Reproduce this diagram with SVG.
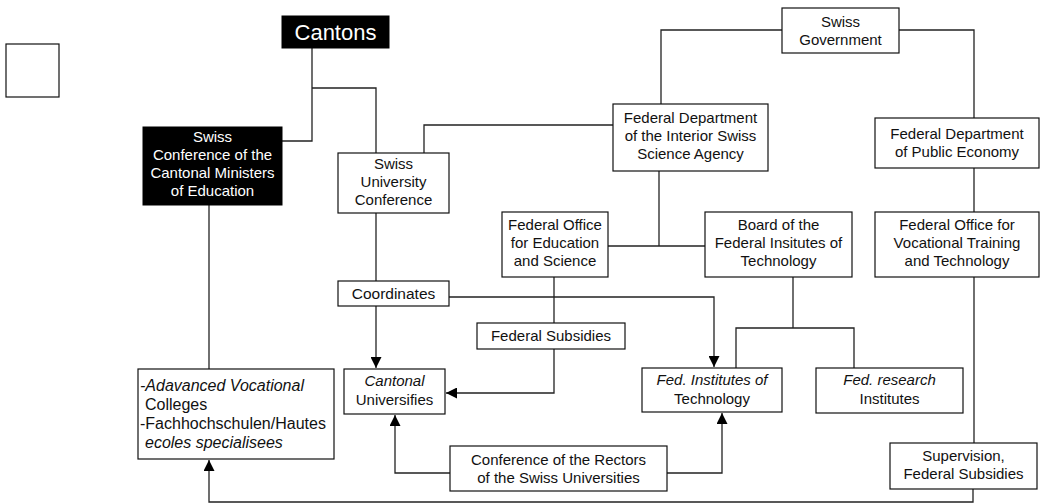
<svg xmlns="http://www.w3.org/2000/svg" width="1040" height="504" viewBox="0 0 1040 504">
<style>
.box{fill:#fff;stroke:#111;stroke-width:1.2}
.dark{fill:#000;stroke:#000;stroke-width:1}
.t{font-family:"Liberation Sans",Arial,sans-serif;font-size:15px;fill:#111;text-anchor:middle}
.w{fill:#fff}
.i{font-style:italic}
.l{text-anchor:start}
.c{fill:none;stroke:#222;stroke-width:1.3}
</style>
<defs>
<marker id="ah" markerUnits="userSpaceOnUse" markerWidth="11" markerHeight="11" refX="11" refY="5.5" orient="auto">
<path d="M0,0 L11,5.5 L0,11 z" fill="#000"/>
</marker>
</defs>
<rect width="1040" height="504" fill="#fff"/>
<g id="connectors">
<path class="c" d="M312,48 V141 H282"/>
<path class="c" d="M312,88 H376 V153"/>
<path class="c" d="M613,125 H424 V153"/>
<path class="c" d="M782,30 H661 V104"/>
<path class="c" d="M899,30 H974 V118"/>
<path class="c" d="M974,168 V212"/>
<path class="c" d="M974,277 V443"/>
<path class="c" d="M973,489 V502 H209 V460" marker-end="url(#ah)"/>
<path class="c" d="M209,205 V369"/>
<path class="c" d="M659,171 V246"/>
<path class="c" d="M608,246 H705"/>
<path class="c" d="M376,213 V281"/>
<path class="c" d="M376,306 V368" marker-end="url(#ah)"/>
<path class="c" d="M449,297 H714 V367" marker-end="url(#ah)"/>
<path class="c" d="M554,277 V323"/>
<path class="c" d="M554,349 V393 H446" marker-end="url(#ah)"/>
<path class="c" d="M793,277 V328"/>
<path class="c" d="M736,368 V328 H854 V368"/>
<path class="c" d="M450,473 H395 V415" marker-end="url(#ah)"/>
<path class="c" d="M667,473 H722 V413" marker-end="url(#ah)"/>
</g>
<g id="empty-box"><rect class="box" x="6" y="44" width="53" height="53"/></g>
<g id="cantons"><rect class="dark" x="282" y="16" width="107" height="32"/><text class="t w" x="335.5" y="40" style="font-size:22px">Cantons</text></g>
<g id="sccme"><rect class="dark" x="143" y="127" width="139" height="78"/>
<text class="t w" x="212.5" y="142">Swiss</text><text class="t w" x="212.5" y="160">Conference of the</text><text class="t w" x="212.5" y="178">Cantonal Ministers</text><text class="t w" x="212.5" y="196">of Education</text></g>
<g id="suc"><rect class="box" x="338" y="153" width="111" height="60"/>
<text class="t" x="393.5" y="169">Swiss</text><text class="t" x="393.5" y="187">University</text><text class="t" x="393.5" y="205">Conference</text></g>
<g id="swiss-government"><rect class="box" x="782" y="8" width="117" height="45"/>
<text class="t" x="840.5" y="27">Swiss</text><text class="t" x="840.5" y="45">Government</text></g>
<g id="fdi"><rect class="box" x="613" y="104" width="155" height="67"/>
<text class="t" x="690.5" y="123">Federal Department</text><text class="t" x="690.5" y="141">of the Interior Swiss</text><text class="t" x="690.5" y="159">Science Agency</text></g>
<g id="fdpe"><rect class="box" x="875" y="118" width="164" height="50"/>
<text class="t" x="957" y="139">Federal Department</text><text class="t" x="957" y="157">of Public Economy</text></g>
<g id="foes"><rect class="box" x="502" y="212" width="106" height="65"/>
<text class="t" x="555" y="230">Federal Office</text><text class="t" x="555" y="248">for Education</text><text class="t" x="555" y="266">and Science</text></g>
<g id="board"><rect class="box" x="705" y="212" width="147" height="65"/>
<text class="t" x="778.5" y="230">Board of the</text><text class="t" x="778.5" y="248">Federal Insitutes of</text><text class="t" x="778.5" y="266">Technology</text></g>
<g id="fovtt"><rect class="box" x="875" y="212" width="164" height="65"/>
<text class="t" x="957" y="230">Federal Office for</text><text class="t" x="957" y="248">Vocational Training</text><text class="t" x="957" y="266">and Technology</text></g>
<g id="coordinates"><rect class="box" x="338" y="281" width="111" height="25"/>
<text class="t" x="393.5" y="299" style="font-size:15.5px">Coordinates</text></g>
<g id="federal-subsidies"><rect class="box" x="477" y="323" width="148" height="26"/>
<text class="t" x="551" y="341">Federal Subsidies</text></g>
<g id="advanced-vocational"><rect class="box" x="138" y="369" width="196" height="90"/>
<text class="t l i" x="140" y="391" style="font-size:16px">-Adavanced Vocational</text>
<text class="t l" x="145" y="410" style="font-size:16px">Colleges</text>
<text class="t l" x="140" y="429" style="font-size:16px">-Fachhochschulen/Hautes</text>
<text class="t l i" x="145" y="448" style="font-size:16px">ecoles specialisees</text></g>
<g id="cantonal-universities"><rect class="box" x="344" y="369" width="101" height="45"/>
<text class="t i" x="394.5" y="386">Cantonal</text><text class="t" x="394.5" y="405">Universifies</text></g>
<g id="fed-institutes"><rect class="box" x="642" y="368" width="140" height="44"/>
<text class="t i" x="712" y="385">Fed. Institutes of</text><text class="t" x="712" y="404">Technology</text></g>
<g id="fed-research"><rect class="box" x="816" y="368" width="147" height="45"/>
<text class="t i" x="889.5" y="385">Fed. research</text><text class="t" x="889.5" y="404">Institutes</text></g>
<g id="rectors"><rect class="box" x="450" y="446" width="217" height="45"/>
<text class="t" x="558.5" y="465">Conference of the Rectors</text><text class="t" x="558.5" y="483">of the Swiss Universities</text></g>
<g id="supervision"><rect class="box" x="890" y="443" width="147" height="46"/>
<text class="t" x="963.5" y="461">Supervision,</text><text class="t" x="963.5" y="479">Federal Subsidies</text></g>
</svg>
